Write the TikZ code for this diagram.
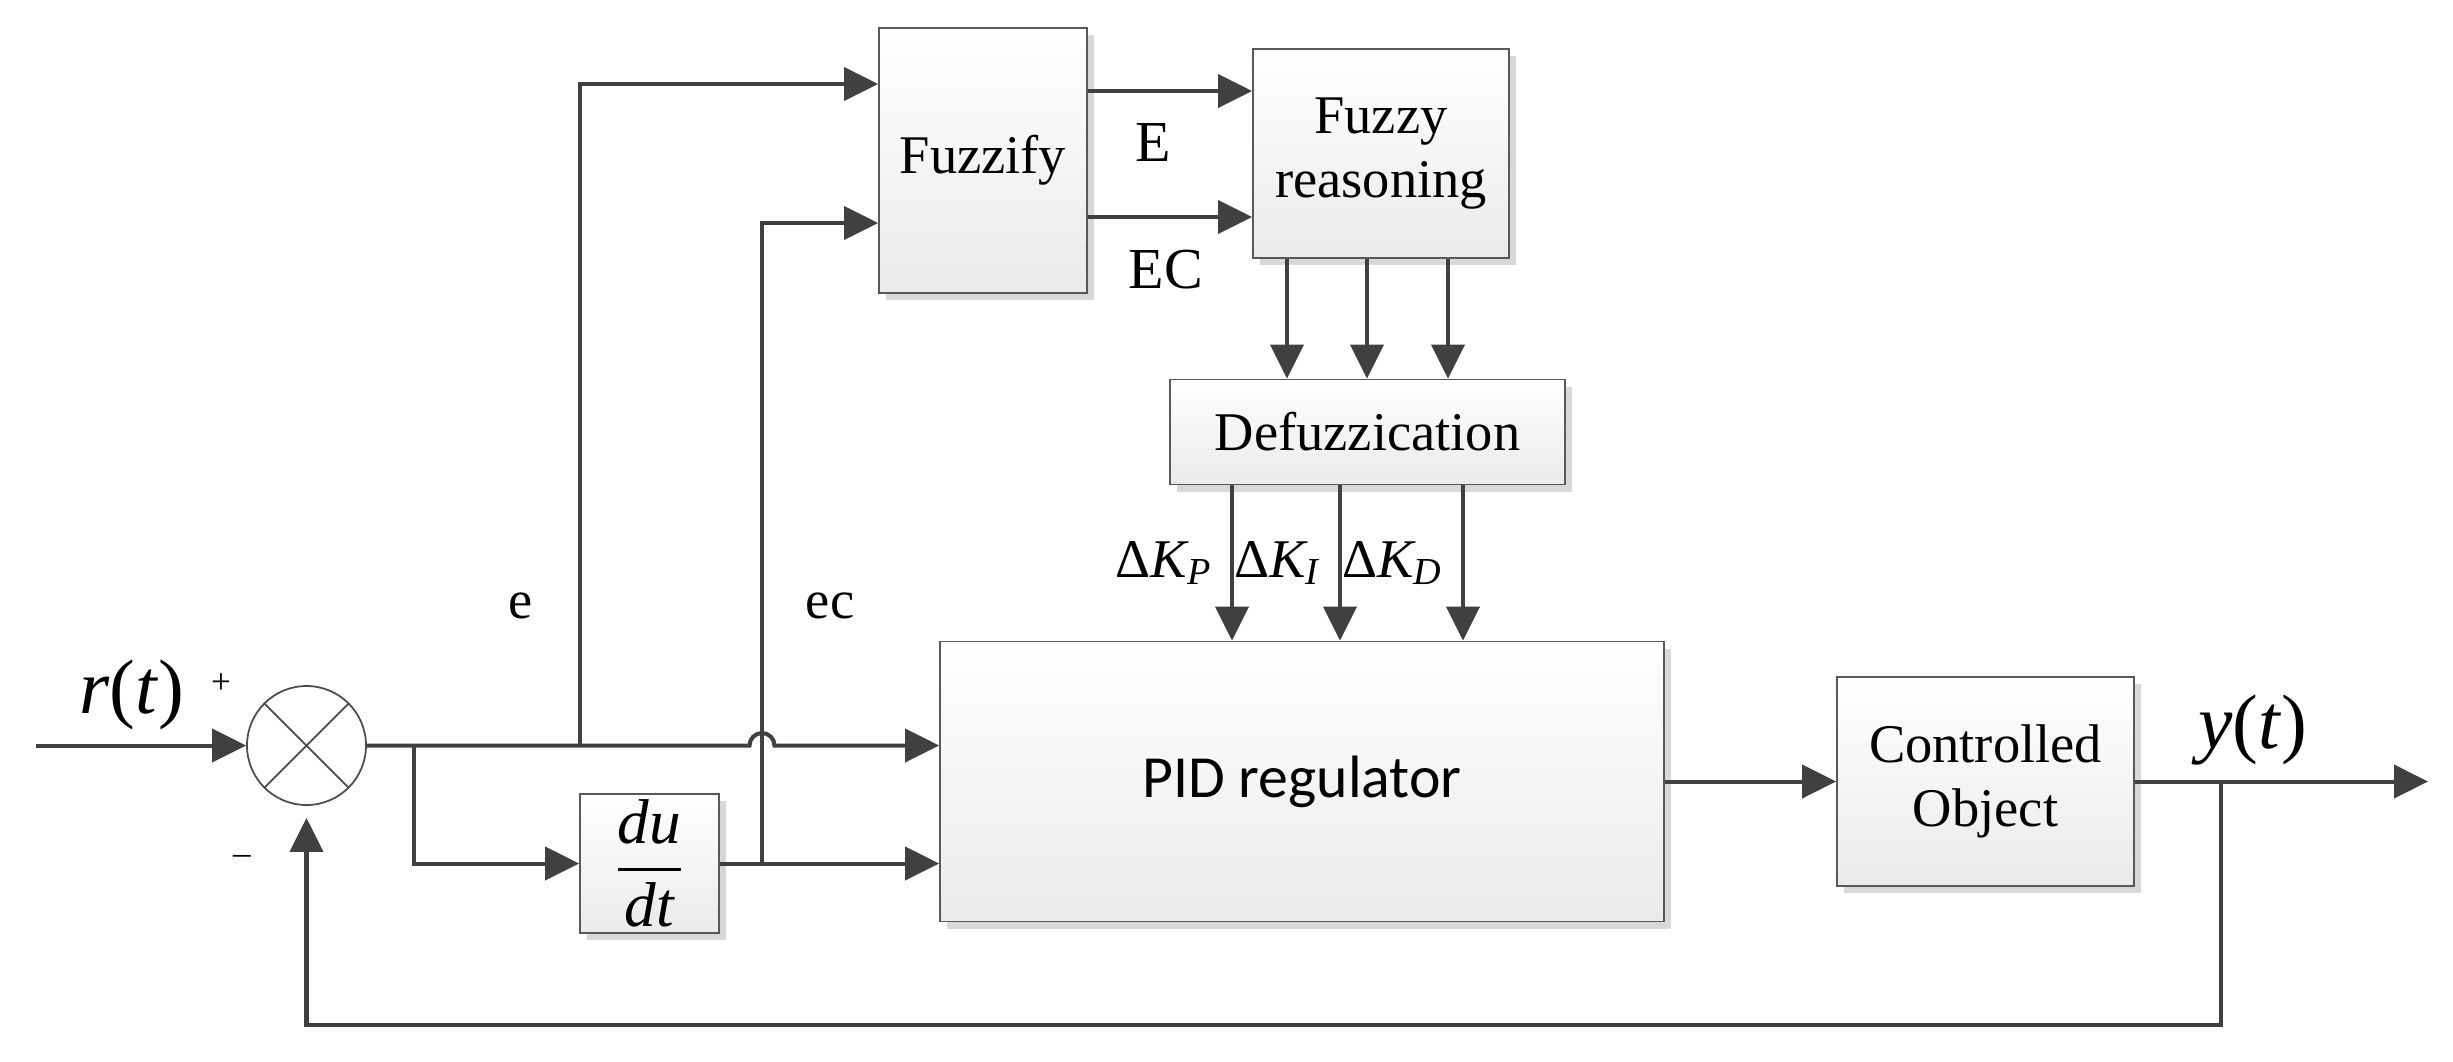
\documentclass[tikz,border=0pt]{standalone}
\usepackage{amsmath}
\usepackage{fontspec}
\setmainfont{Liberation Serif}
\newfontfamily\pidfont{Carlito}
\usetikzlibrary{arrows.meta,shadows,calc}

\begin{document}
\begin{tikzpicture}[>={Triangle[length=0.34cm,width=0.33cm]}, font=\fontsize{15.5}{18}\selectfont,
    block/.style={draw=black!65, line width=0.5pt, top color=white, bottom color=black!8,
        drop shadow={shadow xshift=0.07cm, shadow yshift=-0.07cm, fill=black!30},
        align=center, inner sep=0pt},
    conn/.style={draw=black!75, line width=1.15pt}]
    \useasboundingbox (0,0) rectangle (24.53,-10.61);
    % summing point
    \node[circle, draw=black!70, line width=0.5pt, minimum size=1.19cm, inner sep=0pt] (sum) at (3.065,-7.455) {};
    \draw[black!70, line width=0.5pt] (sum.45) -- (sum.225) (sum.135) -- (sum.315);
    % blocks
    \node[block, minimum width=1.39cm, minimum height=1.39cm, font=\fontsize{18}{21}\selectfont] (du) at (6.495,-8.635) {$\dfrac{\textit{du}}{\textit{dt}}$};
    \node[block, minimum width=2.08cm, minimum height=2.65cm] (fuzz) at (9.83,-1.605) {Fuzzify};
    \node[block, minimum width=2.56cm, minimum height=2.09cm] (reason) at (13.81,-1.535) {Fuzzy\\reasoning};
    \node[block, minimum width=3.95cm, minimum height=1.05cm] (defuzz) at (13.675,-4.32) {Defuzzication};
    \node[block, minimum width=7.24cm, minimum height=2.80cm, font=\pidfont\fontsize{17}{20}\selectfont] (pid) at (13.02,-7.815) {PID regulator};
    \node[block, minimum width=2.97cm, minimum height=2.09cm] (plant) at (19.855,-7.815) {Controlled\\Object};
    % branch points
    \coordinate (in) at (0.36,-7.455);
    \coordinate (dj) at (4.14,-7.455);
    \coordinate (ej) at (5.80,-7.455);
    \coordinate (ecj) at (7.62,-8.635);
    \coordinate (fb) at (22.21,-7.815);
    \coordinate (out) at (24.28,-7.815);
    % main loop
    \draw[conn,->] (in) -- (sum.west);
    \draw[conn,->] (sum.east) -- ($(ecj |- sum)+(-0.125,0)$) arc[start angle=180, end angle=0, radius=0.125] -- (sum -| pid.west);
    \draw[conn,->] (dj) |- (du.west);
    \draw[conn,->] (du.east) -- (du -| pid.west);
    \draw[conn,->] (ej) |- (fuzz.west |- 0,-0.84);
    \draw[conn,->] (ecj) |- (fuzz.west |- 0,-2.23);
    \draw[conn,->] (fuzz.east |- 0,-0.91) -- (reason.west |- 0,-0.91);
    \draw[conn,->] (fuzz.east |- 0,-2.17) -- (reason.west |- 0,-2.17);
    \foreach \x in {12.87,13.67,14.48}
        \draw[conn,->] (reason.south -| \x,0) -- (defuzz.north -| \x,0);
    \foreach \x/\k in {12.32/P,13.40/I,14.63/D}
        \draw[conn,->] (defuzz.south -| \x,0) -- node[left=0.06cm] {$\text{Δ}\textit{K}_{\textit{\k}}$} (pid.north -| \x,0);
    \draw[conn,->] (pid) -- (plant);
    \draw[conn,->] (plant.east) -- (out);
    \draw[conn,->] (fb) -- ++(0,-2.43) -| ([yshift=-0.12cm]sum.south);
    % labels
    \node at (1.32,-6.95) {\fontsize{22}{26}\selectfont\textit{r}(\textit{t})};
    \node at (22.53,-7.30) {\fontsize{22}{26}\selectfont\textit{y}(\textit{t})};
    \node at (2.21,-6.84) {\fontsize{10}{11}\selectfont +};
    \node at (2.42,-8.60) {\fontsize{10}{11}\selectfont –};
    \node at (5.21,-6.06) {e};
    \node at (8.30,-6.06) {ec};
    \node at (11.53,-1.42) {\fontsize{16.5}{19}\selectfont E};
    \node at (11.66,-2.70) {\fontsize{16.5}{19}\selectfont EC};
\end{tikzpicture}
\end{document}
